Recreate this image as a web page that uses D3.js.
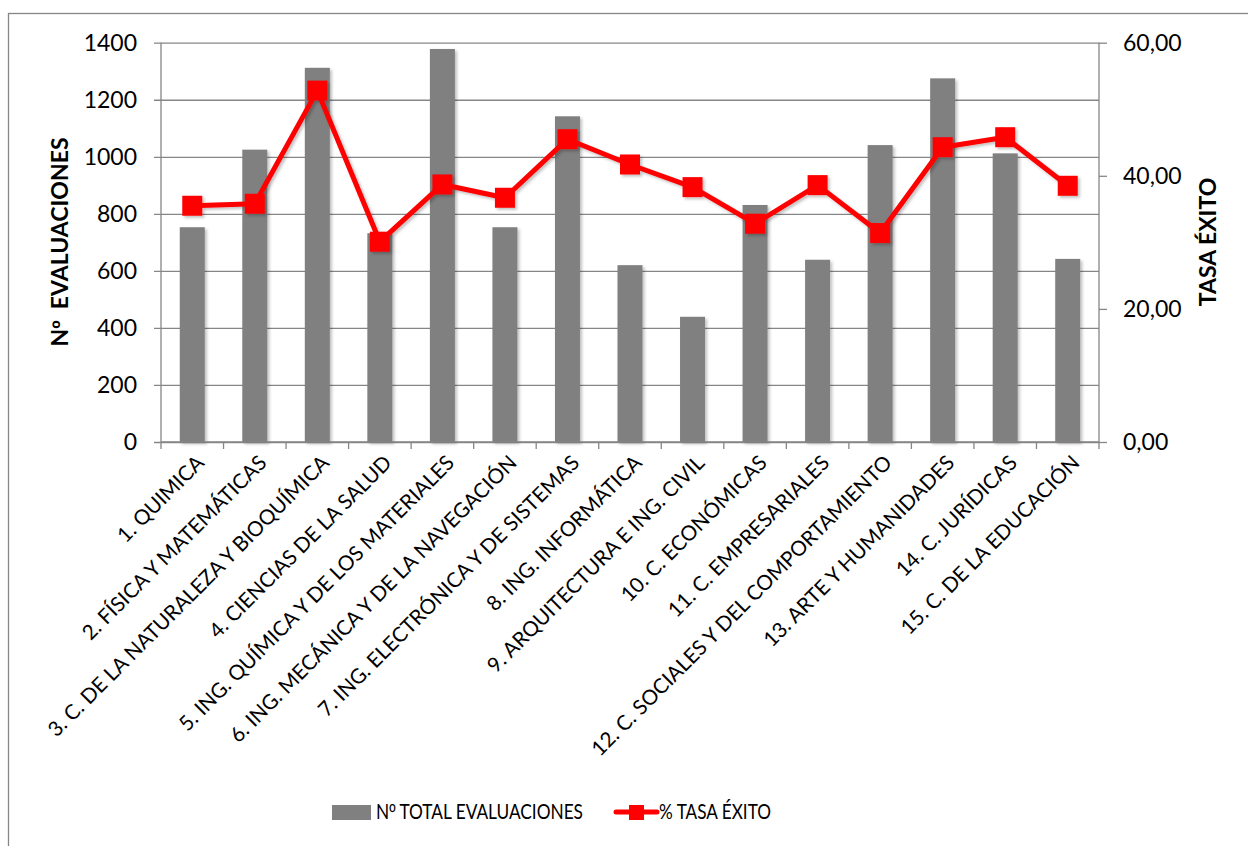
<!DOCTYPE html>
<html>
<head>
<meta charset="utf-8">
<script src="https://cdn.jsdelivr.net/npm/d3@7"></script>
<style>
  body { margin: 0; background: #fff; }
  text { font-family: Lato, "Open Sans", sans-serif; fill: #000; }
  .ord { font-family: "Liberation Sans", "DejaVu Sans", sans-serif; }
</style>
</head>
<body>
<svg id="chart" width="1248" height="846"></svg>
<script>
var categories = [
  "1. QUIMICA", "2. FÍSICA Y MATEMÁTICAS", "3. C. DE LA NATURALEZA Y BIOQUÍMICA",
  "4. CIENCIAS DE LA SALUD", "5. ING. QUÍMICA Y DE LOS MATERIALES",
  "6. ING. MECÁNICA Y DE LA NAVEGACIÓN", "7. ING. ELECTRÓNICA Y DE SISTEMAS",
  "8. ING. INFORMÁTICA", "9. ARQUITECTURA E ING. CIVIL", "10. C. ECONÓMICAS",
  "11. C. EMPRESARIALES", "12. C. SOCIALES Y DEL COMPORTAMIENTO",
  "13. ARTE Y HUMANIDADES", "14. C. JURÍDICAS", "15. C. DE LA EDUCACIÓN"
];
var evaluaciones = [753, 1025, 1312, 732, 1378, 753, 1142, 620, 439, 831, 639, 1041, 1275, 1012, 642];
var tasaExito = [35.5, 35.8, 52.8, 30.1, 38.7, 36.7, 45.5, 41.7, 38.3, 32.8, 38.6, 31.4, 44.3, 45.8, 38.5];
var leftTicks = [0, 200, 400, 600, 800, 1000, 1200, 1400];
var rightTicks = [0, 20, 40, 60];
var seriesNames = ["Nº TOTAL EVALUACIONES", "% TASA ÉXITO"];

var svg = d3.select("#chart");
var plotLeft = 161, plotRight = 1099, plotTop = 42.7, plotBottom = 442;
var gridColor = "#868686";

var defs = svg.append("defs");
var shadow = defs.append("filter").attr("id", "shadow")
  .attr("x", "-30%").attr("y", "-30%").attr("width", "160%").attr("height", "160%");
shadow.append("feDropShadow").attr("dx", 2).attr("dy", 2).attr("stdDeviation", 1.5)
  .attr("flood-color", "#000").attr("flood-opacity", 0.25);

// outer border
svg.append("rect").attr("x", 8.5).attr("y", 13.5).attr("width", 1300).attr("height", 900)
  .attr("fill", "none").attr("stroke", gridColor).attr("stroke-width", 1.3);

var x = d3.scaleBand().domain(categories).range([plotLeft, plotRight]);
var y = d3.scaleLinear().domain([0, 1400]).range([plotBottom, plotTop]);
var y2 = d3.scaleLinear().domain([0, 60]).range([plotBottom, plotTop]);

// gridlines + left axis
var yAxis = svg.append("g").attr("transform", "translate(" + plotLeft + ",0)")
  .call(d3.axisLeft(y).tickValues(leftTicks).tickSize(7).tickPadding(17).tickFormat(d3.format("d")));
yAxis.select(".domain").attr("stroke", gridColor).attr("stroke-width", 1.3).attr("d", "M0," + plotTop + "V" + plotBottom);
yAxis.selectAll(".tick line").attr("stroke", gridColor).attr("stroke-width", 1.3)
  .attr("x1", -7).attr("x2", plotRight - plotLeft);
yAxis.selectAll(".tick text").style("font-size", "23px").attr("fill", "#000");

// right axis
var yAxis2 = svg.append("g").attr("transform", "translate(" + plotRight + ",0)")
  .call(d3.axisRight(y2).tickValues(rightTicks).tickSize(8).tickPadding(16)
    .tickFormat(function (d) { return d3.format(".2f")(d).replace(".", ","); }));
yAxis2.select(".domain").attr("stroke", gridColor).attr("stroke-width", 1.3).attr("d", "M0," + plotTop + "V" + plotBottom);
yAxis2.selectAll(".tick line").attr("stroke", gridColor).attr("stroke-width", 1.3);
yAxis2.selectAll(".tick text").style("font-size", "23px").attr("fill", "#000");

// bars
svg.append("g").selectAll("rect").data(evaluaciones).enter().append("rect")
  .attr("x", function (d, i) { return x(categories[i]) + x.bandwidth() * 0.3; })
  .attr("width", x.bandwidth() * 0.4)
  .attr("y", function (d) { return y(d); })
  .attr("height", function (d) { return plotBottom - y(d); })
  .attr("fill", "#808080")
  .attr("filter", "url(#shadow)");

// x axis
var xAxis = svg.append("g").attr("transform", "translate(0," + plotBottom + ")");
xAxis.append("line").attr("x1", plotLeft).attr("x2", plotRight).attr("stroke", gridColor).attr("stroke-width", 1.3);
var bounds = categories.map(function (c) { return x(c); }).concat([plotRight]);
xAxis.selectAll(".tk").data(bounds).enter().append("line")
  .attr("x1", function (d) { return d; }).attr("x2", function (d) { return d; })
  .attr("y1", 0).attr("y2", 7).attr("stroke", gridColor).attr("stroke-width", 1.3);
xAxis.selectAll(".lbl").data(categories).enter().append("text")
  .attr("transform", function (d) { return "translate(" + (x(d) + x.bandwidth() / 2 + 8) + ",17) rotate(-45)"; })
  .attr("text-anchor", "end")
  .attr("dy", "0.35em")
  .style("font-size", "20.7px")
  .text(function (d) { return d; });

// line
var line = d3.line()
  .x(function (d, i) { return x(categories[i]) + x.bandwidth() / 2; })
  .y(function (d) { return y2(d); });
var lineG = svg.append("g").attr("filter", "url(#shadow)");
lineG.append("path").datum(tasaExito).attr("d", line)
  .attr("fill", "none").attr("stroke", "#ff0000").attr("stroke-width", 5).attr("stroke-linejoin", "round");
lineG.selectAll("rect").data(tasaExito).enter().append("rect")
  .attr("x", function (d, i) { return x(categories[i]) + x.bandwidth() / 2 - 10; })
  .attr("y", function (d) { return y2(d) - 10; })
  .attr("width", 20).attr("height", 20).attr("fill", "#ff0000");

// axis titles (º drawn with a font whose ordinal is underlined, like the original)
var t1 = svg.append("text").attr("transform", "translate(68,242) rotate(-90)")
  .attr("text-anchor", "middle").style("font-size", "23px").style("font-weight", "bold")
  .attr("xml:space", "preserve");
t1.append("tspan").text("N");
t1.append("tspan").attr("class", "ord").text("º");
t1.append("tspan").text("  EVALUACIONES");
svg.append("text").attr("transform", "translate(1216,242) rotate(-90)")
  .attr("text-anchor", "middle").style("font-size", "23px").style("font-weight", "bold")
  .text("TASA ÉXITO");

// legend
var legend = svg.append("g");
legend.append("rect").attr("x", 332).attr("y", 805).attr("width", 39).attr("height", 15).attr("fill", "#808080");
var lt = legend.append("text").attr("x", 376).attr("y", 812).attr("dy", "0.36em").style("font-size", "20.5px")
  .attr("textLength", 207).attr("lengthAdjust", "spacingAndGlyphs");
lt.append("tspan").text(seriesNames[0].charAt(0));
lt.append("tspan").attr("class", "ord").text(seriesNames[0].charAt(1));
lt.append("tspan").text(seriesNames[0].slice(2));
legend.append("line").attr("x1", 616).attr("x2", 657).attr("y1", 812).attr("y2", 812)
  .attr("stroke", "#ff0000").attr("stroke-width", 5).attr("stroke-linecap", "round");
legend.append("rect").attr("x", 629).attr("y", 805).attr("width", 15).attr("height", 15).attr("fill", "#ff0000");
legend.append("text").attr("x", 659).attr("y", 812).attr("dy", "0.36em").style("font-size", "20.5px")
  .attr("textLength", 112).attr("lengthAdjust", "spacingAndGlyphs").text(seriesNames[1]);
</script>
</body>
</html>
